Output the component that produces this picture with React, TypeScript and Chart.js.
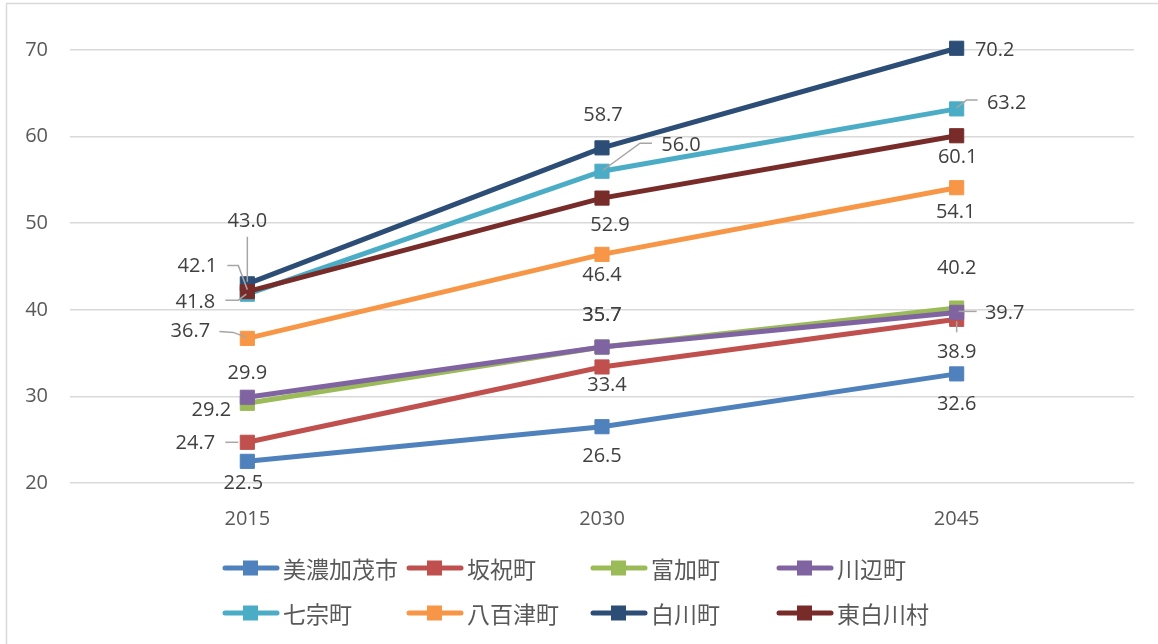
import React, { useEffect, useRef } from "react";
import { Chart, registerables } from "chart.js";

Chart.register(...registerables);

// ---- data ----
const YEARS = ["2015", "2030", "2045"];
const SERIES_NAMES = ["美濃加茂市", "坂祝町", "富加町", "川辺町", "七宗町", "八百津町", "白川町", "東白川村"];
const MINOKAMO = [22.5, 26.5, 32.6];
const SAKAHOGI = [24.7, 33.4, 38.9];
const TOMIKA = [29.2, 35.7, 40.2];
const KAWABE = [29.9, 35.7, 39.7];
const HICHISO = [41.8, 56.0, 63.2];
const YAOTSU = [36.7, 46.4, 54.1];
const SHIRAKAWA = [43.0, 58.7, 70.2];
const HIGASHISHIRAKAWA = [42.1, 52.9, 60.1];
const Y_MIN = 20;
const Y_MAX = 70;
const Y_STEP = 10;

const SERIES_VALUES = [MINOKAMO, SAKAHOGI, TOMIKA, KAWABE, HICHISO, YAOTSU, SHIRAKAWA, HIGASHISHIRAKAWA];

// ---- styles ----
const COLORS = ["#4F81BD", "#C0504D", "#9BBB59", "#8064A2", "#4BACC6", "#F79646", "#2C4D75", "#772C2A"];
const NUM_FONT = "'Open Sans', sans-serif";
const CJK_FONT = "'Noto Sans CJK JP', sans-serif";

// label offset (dx, dy) from each point, px
const LABEL_OFFSETS: number[][][] = [
  [[-4, 22], [0, 30], [0, 30]],
  [[-52, 1], [5, 18], [0, 33]],
  [[-36, 7], [0, -32], [0, -40]],
  [[0, -24], [0, -32], [48, 1]],
  [[-52, 8], [79, -26], [50, -6]],
  [[-57, -7], [0, 21], [-1, 25]],
  [[0, -63], [1, -33], [38, 2]],
  [[-50, -25], [8, 27], [1, 22]],
];

// leader line polylines relative to the point, px
const LEADERS: (number[][] | null)[][] = [
  [null, null, null],
  [[[-22, 0], [-9, 0]], null, [[0, 13], [0, 2]]],
  [null, null, null],
  [null, null, [[2, -1], [20, -1]]],
  [[[-22, 6], [-9, 6], [-1, 0]], [[1, -1], [38, -28], [50, -28]], [[0, -1], [10, -9], [21, -9]]],
  [[[-28, -7], [-14, -6], [-1, -1]], null, null],
  [[[0, -47], [0, -2]], null, null],
  [[[-20, -26], [-9, -26], [0, -2]], null, null],
];

const LEGEND_COL_X = [223, 407, 591, 777];
const LEGEND_ROW_Y = [568, 613];

const framePlugin = {
  id: "frame",
  beforeDraw(chart: any) {
    const ctx = chart.ctx;
    ctx.save();
    ctx.fillStyle = "#ffffff";
    ctx.fillRect(0, 0, chart.width, chart.height);
    ctx.strokeStyle = "#d9d9d9";
    ctx.lineWidth = 1.5;
    ctx.strokeRect(6.5, 3.5, chart.width + 20, chart.height + 20);
    ctx.restore();
  },
};

const dataLabelPlugin = {
  id: "dataLabels",
  afterDatasetsDraw(chart: any) {
    const ctx = chart.ctx;
    ctx.save();
    chart.data.datasets.forEach((ds: any, i: number) => {
      const meta = chart.getDatasetMeta(i);
      meta.data.forEach((pt: any, j: number) => {
        const lead = LEADERS[i][j];
        if (lead) {
          ctx.beginPath();
          ctx.strokeStyle = "#a6a6a6";
          ctx.lineWidth = 1.5;
          lead.forEach((p, k) => {
            const px = pt.x + p[0];
            const py = pt.y + p[1];
            if (k === 0) ctx.moveTo(px, py);
            else ctx.lineTo(px, py);
          });
          ctx.stroke();
        }
      });
    });
    chart.data.datasets.forEach((ds: any, i: number) => {
      const meta = chart.getDatasetMeta(i);
      meta.data.forEach((pt: any, j: number) => {
        const off = LABEL_OFFSETS[i][j];
        ctx.font = `20px ${NUM_FONT}`;
        ctx.fillStyle = "#404040";
        ctx.textAlign = "center";
        ctx.textBaseline = "middle";
        ctx.fillText(Number(ds.data[j]).toFixed(1), pt.x + off[0], pt.y + off[1]);
      });
    });
    ctx.restore();
  },
};

const legendPlugin = {
  id: "customLegend",
  afterDraw(chart: any) {
    const ctx = chart.ctx;
    ctx.save();
    chart.data.datasets.forEach((ds: any, i: number) => {
      const x0 = LEGEND_COL_X[i % 4];
      const y = LEGEND_ROW_Y[Math.floor(i / 4)];
      ctx.strokeStyle = ds.borderColor;
      ctx.lineWidth = 5;
      ctx.lineCap = "round";
      ctx.beginPath();
      ctx.moveTo(x0 + 2, y);
      ctx.lineTo(x0 + 54, y);
      ctx.stroke();
      ctx.fillStyle = ds.borderColor;
      ctx.fillRect(x0 + 20, y - 7.5, 15, 15);
      ctx.font = `23px ${CJK_FONT}`;
      ctx.fillStyle = "#595959";
      ctx.textAlign = "left";
      ctx.textBaseline = "middle";
      ctx.fillText(ds.label, x0 + 60, y + 1);
    });
    ctx.restore();
  },
};

export default function App() {
  const ref = useRef<HTMLCanvasElement | null>(null);

  useEffect(() => {
    if (!ref.current) return;
    const datasets = SERIES_NAMES.map((name, i) => ({
      label: name,
      data: SERIES_VALUES[i],
      borderColor: COLORS[i],
      backgroundColor: COLORS[i],
      borderWidth: 5,
      pointStyle: "rect" as const,
      pointRadius: 10,
      pointBorderWidth: 1,
      pointBorderColor: COLORS[i],
      pointBackgroundColor: COLORS[i],
      tension: 0,
      clip: false as any,
      order: SERIES_NAMES.length - 1 - i,
    }));
    const chart = new Chart(ref.current, {
      type: "line",
      data: { labels: YEARS, datasets },
      options: {
        animation: false,
        responsive: false,
        devicePixelRatio: 1,
        layout: { padding: { top: 50, right: 24, left: 0, bottom: 0 } },
        plugins: { legend: { display: false }, tooltip: { enabled: false } },
        scales: {
          x: {
            type: "category",
            offset: true,
            grid: { display: false },
            border: { display: false },
            ticks: { font: { family: NUM_FONT, size: 20 }, color: "#595959", padding: 16 },
            afterFit: (scale: any) => {
              scale.height = 161;
            },
          },
          y: {
            min: Y_MIN,
            max: Y_MAX,
            grid: { color: "#d9d9d9", lineWidth: 1.5, drawTicks: false },
            border: { display: false },
            ticks: { stepSize: Y_STEP, font: { family: NUM_FONT, size: 20 }, color: "#595959", padding: 22 },
            afterFit: (scale: any) => {
              scale.width = 70;
            },
          },
        },
      },
      plugins: [framePlugin, dataLabelPlugin, legendPlugin],
    });
    return () => chart.destroy();
  }, []);

  return (
    <div style={{ position: "absolute", left: 0, top: 0, width: 1158, height: 644, background: "#fff" }}>
      <canvas ref={ref} width={1158} height={644} style={{ width: 1158, height: 644, display: "block" }} />
    </div>
  );
}
